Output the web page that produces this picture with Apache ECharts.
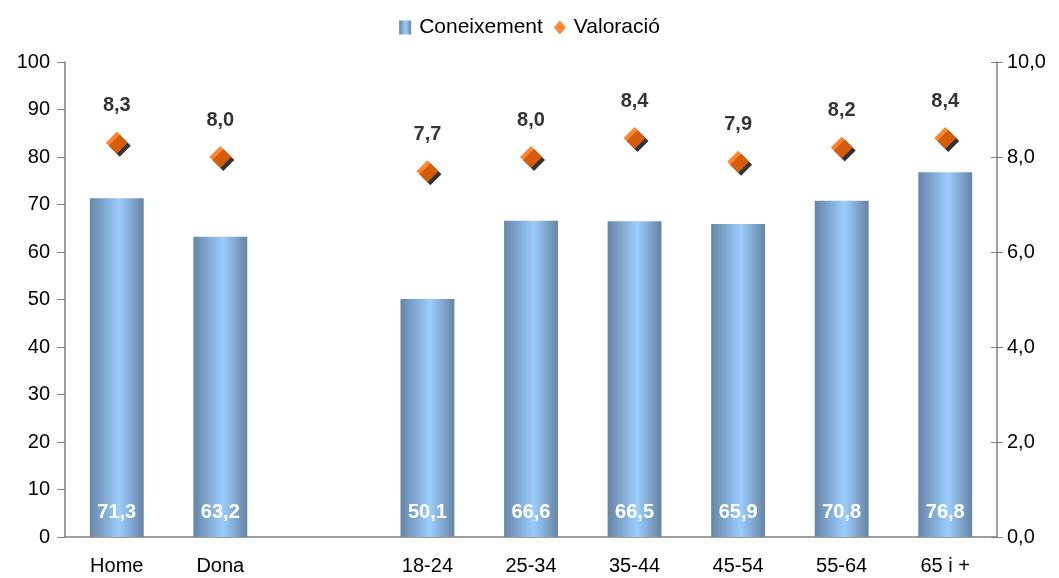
<!DOCTYPE html>
<html><head><meta charset="utf-8">
<script src="https://cdn.jsdelivr.net/npm/echarts@6/dist/echarts.min.js"></script>
<style>html,body{margin:0;padding:0;background:#fff}#c{width:1059px;height:578px}</style>
</head><body><div id="c"></div>
<script>
var categories = ['Home', 'Dona', '', '18-24', '25-34', '35-44', '45-54', '55-64', '65 i +'];
var coneixement = [71.3, 63.2, '-', 50.1, 66.6, 66.5, 65.9, 70.8, 76.8];
var valoracio = [8.3, 8.0, '-', 7.7, 8.0, 8.4, 7.9, 8.2, 8.4];
var leftTicks = {min: 0, max: 100, interval: 10};
var rightTicks = {min: 0, max: 10, interval: 2};

function comma(v, d) { return Number(v).toFixed(d).replace('.', ','); }
var font = 'Liberation Sans, Arial, sans-serif';
var axisColor = '#808080';
var chart = echarts.init(document.getElementById('c'));
chart.setOption({
  animation: false,
  textStyle: {fontFamily: font},
  grid: {left: 65, right: 62, top: 62, bottom: 41},
  legend: {
    top: 12, left: 'center', itemGap: 11, itemWidth: 12, itemHeight: 14,
    textStyle: {fontSize: 21, color: '#000', fontFamily: font, padding: [0, 0, 0, 3]},
    data: [{name: 'Coneixement', icon: 'rect'}, {name: 'Valoració', icon: 'diamond'}]
  },
  xAxis: {
    type: 'category', data: categories,
    axisLine: {lineStyle: {color: axisColor, width: 1.5}},
    axisTick: {length: 7, lineStyle: {color: axisColor}},
    axisLabel: {fontSize: 20, color: '#000', margin: 19, interval: 0}
  },
  yAxis: [
    {type: 'value', min: leftTicks.min, max: leftTicks.max, interval: leftTicks.interval,
     axisLine: {show: true, lineStyle: {color: axisColor, width: 1.5}},
     axisTick: {show: true, length: 8, lineStyle: {color: axisColor}},
     splitLine: {show: false},
     axisLabel: {fontSize: 20, color: '#000', margin: 15}},
    {type: 'value', position: 'right', min: rightTicks.min, max: rightTicks.max, interval: rightTicks.interval,
     axisLine: {show: true, lineStyle: {color: axisColor, width: 1.5}},
     axisTick: {show: true, length: 6, lineStyle: {color: axisColor}},
     splitLine: {show: false},
     axisLabel: {fontSize: 20, color: '#000', margin: 10, formatter: function (v) { return comma(v, 1); }}},
    {type: 'value', position: 'right', min: rightTicks.min, max: rightTicks.max, interval: rightTicks.interval,
     axisLine: {show: false}, axisLabel: {show: false}, splitLine: {show: false},
     axisTick: {show: true, inside: true, length: 6, lineStyle: {color: axisColor}}}
  ],
  series: [
    {name: 'Coneixement', type: 'bar', yAxisIndex: 0, data: coneixement, barWidth: '52%',
     itemStyle: {color: new echarts.graphic.LinearGradient(0, 0, 1, 0, [
       {offset: 0, color: '#6685a8'}, {offset: 0.55, color: '#9ccdfd'}, {offset: 1, color: '#6683a4'}])},
     label: {show: true, position: 'insideBottom', distance: 15, color: '#fff', fontWeight: 'bold', fontSize: 20,
       textBorderWidth: 0, formatter: function (p) { return comma(p.value, 1); }}},
    {name: 'shadow', type: 'scatter', yAxisIndex: 1, data: valoracio, symbol: 'diamond', symbolSize: 22,
     symbolOffset: [3, 3], silent: true, itemStyle: {color: '#000'}},
    {name: 'Valoració', type: 'scatter', yAxisIndex: 1, data: valoracio, symbol: 'diamond', symbolSize: 22,
     itemStyle: {color: '#ff6600'},
     label: {show: true, position: 'top', distance: 16, color: '#000', fontWeight: 'bold', fontSize: 20,
       textBorderWidth: 0, formatter: function (p) { return comma(p.value, 1); }}}
  ]
});
</script></body></html>
